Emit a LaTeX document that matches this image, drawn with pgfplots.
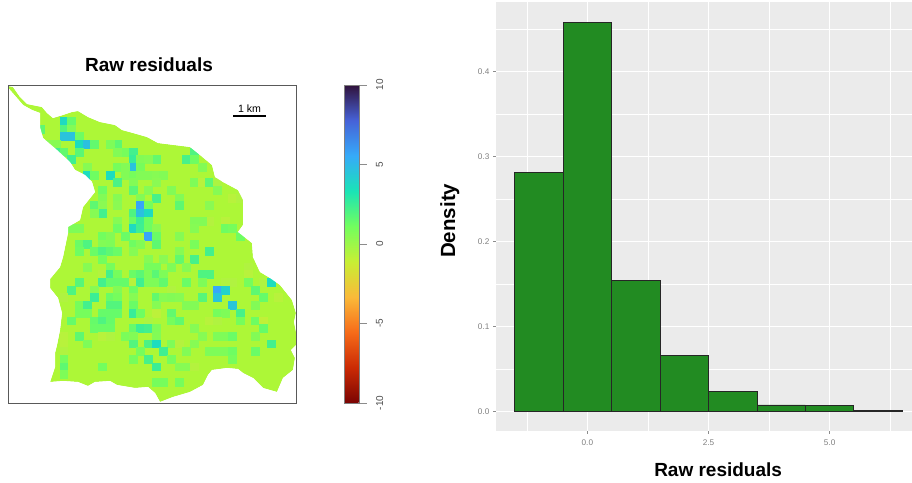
\documentclass[border=0pt]{standalone}
\usepackage{pgfplots}
\usepackage{pgfplotstable}
\usepackage{fontspec}
\setmainfont{Liberation Sans}
\pgfplotsset{compat=1.18}
\definecolor{basecol}{HTML}{ADF737}
\definecolor{panel}{HTML}{EBEBEB}
\definecolor{forest}{HTML}{228B22}
\pgfplotstableread{
k j v
7 4 3.7
8 4 1.4
4 5 1.6
7 5 2.0
8 5 0.7
7 6 4.6
8 6 4.6
9 6 1.2
5 7 0.5
6 7 0.6
9 7 3.6
10 7 4.7
11 7 1.5
14 7 1.6
13 7 0.8
6 8 2.4
7 8 1.5
9 8 1.7
15 8 1.0
16 8 2.3
14 8 0.7
24 8 2.0
8 9 2.4
16 9 2.6
19 9 1.5
23 9 2.2
24 9 1.2
17 9 0.7
18 9 0.6
16 10 4.6
14 10 1.0
15 10 0.7
17 10 1.0
10 10 0.6
25 10 0.7
10 11 3.6
11 11 1.2
13 11 3.6
15 11 0.7
16 11 1.0
17 11 0.7
18 11 0.7
19 11 0.6
20 11 0.7
14 12 2.1
16 12 0.7
24 12 0.8
25 12 -0.7
26 12 1.6
27 12 -0.4
19 12 0.5
12 13 1.2
16 13 1.7
18 13 0.6
21 13 0.7
27 13 0.6
19 14 2.2
14 14 0.6
12 14 0.7
29 14 -0.7
30 14 -0.5
17 14 0.7
22 14 0.7
11 15 1.6
12 15 0.5
14 15 0.5
17 15 5.7
18 15 1.0
22 15 1.6
26 15 0.5
12 16 2.3
16 16 2.0
17 16 4.7
18 16 3.7
11 16 0.6
14 17 0.6
16 17 1.3
17 17 2.5
18 17 1.2
26 17 -0.6
28 17 -0.7
24 17 0.7
25 17 0.7
8 18 0.8
9 18 0.8
14 18 1.2
16 18 3.7
17 18 2.4
18 18 1.2
19 18 0.5
24 18 0.6
28 18 1.2
29 18 1.0
12 19 1.1
13 19 0.7
15 19 1.3
18 19 5.7
19 19 1.3
22 19 0.6
30 19 1.2
9 20 1.3
10 20 2.0
12 20 0.7
13 20 0.8
16 20 1.2
17 20 0.7
19 20 1.6
24 20 0.9
9 21 1.2
11 21 1.3
12 21 2.0
13 21 1.6
14 21 1.3
16 21 0.6
26 21 2.3
22 21 0.6
12 22 1.1
22 22 1.5
24 22 2.2
18 22 0.6
20 22 0.5
10 23 0.6
13 23 1.0
18 23 1.0
19 23 1.0
21 23 0.8
23 23 0.6
31 23 -0.5
12 24 -0.6
13 24 2.3
14 24 1.0
16 24 1.3
17 24 1.7
18 24 0.8
19 24 1.7
20 24 0.8
25 24 2.0
26 24 2.0
31 24 -0.7
9 25 1.8
12 25 2.3
13 25 1.4
14 25 1.4
15 25 1.4
16 25 -0.7
17 25 2.4
18 25 0.8
19 25 0.8
20 25 1.5
23 25 1.3
25 25 0.8
28 25 -0.5
29 25 -0.5
31 25 1.0
33 25 -0.5
34 25 3.6
8 26 2.0
11 26 0.6
14 26 0.7
16 26 1.2
27 26 5.6
28 26 4.0
32 26 1.6
21 26 -0.5
11 27 2.5
13 27 1.3
14 27 1.0
16 27 0.6
19 27 1.5
20 27 0.6
21 27 0.7
22 27 0.6
25 27 1.8
27 27 4.5
33 27 1.4
35 27 -0.7
7 27 -0.5
9 28 1.0
10 28 2.3
13 28 1.9
14 28 1.9
16 28 1.3
19 28 0.6
23 28 0.7
24 28 0.7
29 28 4.5
32 28 0.7
9 29 1.0
10 29 1.0
12 29 1.4
13 29 1.4
14 29 1.4
16 29 2.6
17 29 1.2
19 29 -0.8
21 29 1.5
27 29 1.0
28 29 0.8
30 29 2.2
8 30 1.4
11 30 1.4
12 30 2.0
13 30 1.4
18 30 -0.4
21 30 1.0
22 30 1.5
26 30 -0.7
27 30 -0.5
30 30 1.0
32 30 1.2
33 30 -0.9
11 31 1.3
12 31 1.3
13 31 1.3
16 31 1.4
17 31 2.5
18 31 2.3
19 31 0.8
24 31 0.6
33 31 1.4
7 32 -0.7
9 32 1.6
12 32 -0.7
13 32 -0.5
15 32 0.9
16 32 0.7
19 32 0.7
25 32 0.6
27 32 0.8
28 32 0.8
29 32 1.3
32 32 0.7
7 33 -0.7
10 33 0.8
16 33 1.9
18 33 2.1
19 33 3.6
21 33 0.8
22 33 -0.6
24 33 0.6
34 33 2.3
7 34 -0.5
17 34 1.0
20 34 2.4
23 34 0.7
26 34 0.8
27 34 0.8
28 34 0.8
29 34 1.2
32 34 1.3
7 35 1.0
16 35 1.0
18 35 2.2
21 35 1.0
29 35 1.0
7 36 1.6
12 36 1.1
19 36 2.5
22 36 0.6
23 36 0.6
24 36 -0.6
7 37 0.8
19 38 1.0
20 38 1.0
22 38 1.0
}\cells
\begin{document}
\begin{tikzpicture}[x=1bp,y=1bp]
\path[use as bounding box] (0,0) rectangle (912bp,483bp);
% ---------- map ----------
\begin{axis}[
  at={(8bp,80bp)}, anchor=south west, scale only axis,
  width=288bp, height=318bp,
  xmin=8, xmax=296, ymin=85, ymax=403, y dir=reverse,
  ticks=none, axis on top, clip marker paths=true,
  axis line style={draw=black!65, line width=.95bp},
  point meta min=-10, point meta max=10,
  colormap={turbor}{
    rgb255=(122,4,3) rgb255=(203,42,4) rgb255=(246,107,25)
    rgb255=(250,186,57) rgb255=(200,239,52) rgb255=(114,254,94)
    rgb255=(26,228,182) rgb255=(54,170,249) rgb255=(70,98,215)
    rgb255=(48,18,59)},
  colorbar,
  colorbar style={
    at={(parent axis.south east)}, anchor=south west, xshift=40bp,
    width=15bp, height=318bp,
    ytick={-10,-5,0,5,10}, ytick pos=right, yticklabel pos=right,
    tick align=outside, major tick length=7bp,
    tick style={color=black!45, line width=.9bp},
    axis line style={draw=black!50, line width=.9bp},
    yticklabel style={rotate=90, anchor=north, font=\fontsize{10bp}{11bp}\selectfont, text=black!70, yshift=-6bp},
    /pgf/number format/assume math mode=true,
  },
  title={\fontsize{19bp}{22bp}\selectfont\bfseries Raw residuals},
  title style={at={(axis description cs:0.4896,1)}, anchor=center, yshift=14bp},
]
% catchment outline
\addplot[draw=none, fill=basecol] coordinates {
(8,86)(13,87)(20,97)(27,104)(42,107)(47,113)(53,118)(63,115)(72,112)(78,111)(88,117)(100,122)(115,125)(122,130)(133,133)(147,137)(158,143)(190,147)(200,155)(212,165)(215,177)(223,182)(238,190)(243,200)(243,225)(238,232)(252,243)(253,257)(260,272)(270,278)(280,285)(292,300)(296,313)(294,322)(296,332)(296,345)(291,350)(295,358)(293,370)(283,378)(277,392)(263,388)(253,378)(243,373)(238,369)(227,368)(212,370)(208,375)(203,385)(190,392)(173,397)(160,402)(155,393)(148,387)(135,388)(117,385)(110,381)(95,382)(88,386)(78,382)(63,381)(50,382)(55,367)(55,353)(57,345)(60,330)(62,313)(58,298)(50,288)(50,279)(60,267)(63,257)(68,233)(68,227)(80,220)(83,207)(95,192)(92,182)(85,175)(75,170)(70,162)(57,150)(43,138)(40,127)(40,113)(32,110)(23,105)(17,98)(10,90)(8,88)
} --cycle;
% raster cells
\addplot[scatter, only marks, mark=square*, mark size=3.9bp, point meta=explicit,
  scatter/use mapped color={draw=mapped color, fill=mapped color}, mark options={line width=0pt}]
  table[x expr=\thisrow{k}*7.67+10.4, y expr=\thisrow{j}*7.67+90.8, meta=v] {\cells};
% white mask round the catchment
\addplot[draw=none, fill=white, even odd rule] coordinates {
(0,80)(300,80)(300,410)(0,410)(0,80)
(8,86)(13,87)(20,97)(27,104)(42,107)(47,113)(53,118)(63,115)(72,112)(78,111)(88,117)(100,122)(115,125)(122,130)(133,133)(147,137)(158,143)(190,147)(200,155)(212,165)(215,177)(223,182)(238,190)(243,200)(243,225)(238,232)(252,243)(253,257)(260,272)(270,278)(280,285)(292,300)(296,313)(294,322)(296,332)(296,345)(291,350)(295,358)(293,370)(283,378)(277,392)(263,388)(253,378)(243,373)(238,369)(227,368)(212,370)(208,375)(203,385)(190,392)(173,397)(160,402)(155,393)(148,387)(135,388)(117,385)(110,381)(95,382)(88,386)(78,382)(63,381)(50,382)(55,367)(55,353)(57,345)(60,330)(62,313)(58,298)(50,288)(50,279)(60,267)(63,257)(68,233)(68,227)(80,220)(83,207)(95,192)(92,182)(85,175)(75,170)(70,162)(57,150)(43,138)(40,127)(40,113)(32,110)(23,105)(17,98)(10,90)(8,88)(8,86)
(0,80)
};
% scale bar
\addplot[black, line width=2bp] coordinates {(233,116.5)(266,116.5)};
\node[font=\fontsize{10.6bp}{12bp}\selectfont, text=black] at (axis cs:249.5,108.3) {1 km};
\end{axis}
% ---------- histogram ----------
\begin{axis}[
  at={(496bp,52bp)}, anchor=south west, scale only axis,
  width=416bp, height=429bp,
  xmin=-1.886, xmax=6.70, ymin=-0.0227, ymax=0.482,
  axis line style={draw=none},
  axis background/.style={fill=panel},
  xtick={0,2.5,5}, minor xtick={-1.25,1.25,3.75,6.25},
  ytick={0,0.1,0.2,0.3,0.4}, minor ytick={0.05,0.15,0.25,0.35,0.45},
  xtick pos=bottom, ytick pos=left,
  grid=both,
  major grid style={white, line width=.9bp},
  minor grid style={white, line width=.5bp},
  tick align=outside, major tick length=2.6bp, minor tick length=0pt,
  tick style={color=black!45, line width=.6bp},
  tick label style={font=\fontsize{8.2bp}{9bp}\selectfont, text=black!50},
  xticklabel style={yshift=-2.5bp}, yticklabel style={xshift=-0.5bp},
  /pgf/number format/.cd, fixed, fixed zerofill, precision=1, assume math mode=true,
  /pgfplots/.cd,
  xlabel={\fontsize{19bp}{22bp}\selectfont\bfseries Raw residuals},
  ylabel={\fontsize{20.5bp}{22bp}\selectfont\bfseries Density},
  xlabel style={at={(axis description cs:0.534,-0.091)}, anchor=center},
  ylabel style={at={(axis description cs:-0.111,0.49)}, anchor=center},
]
\addplot[ybar interval, fill=forest, draw=black!85, line width=.8bp] coordinates {
(-1.5,0.281)(-0.5,0.458)(0.5,0.154)(1.5,0.066)(2.5,0.024)(3.5,0.008)(4.5,0.0075)(5.5,0.001)(6.5,0.001)};
\end{axis}
\end{tikzpicture}
\end{document}
